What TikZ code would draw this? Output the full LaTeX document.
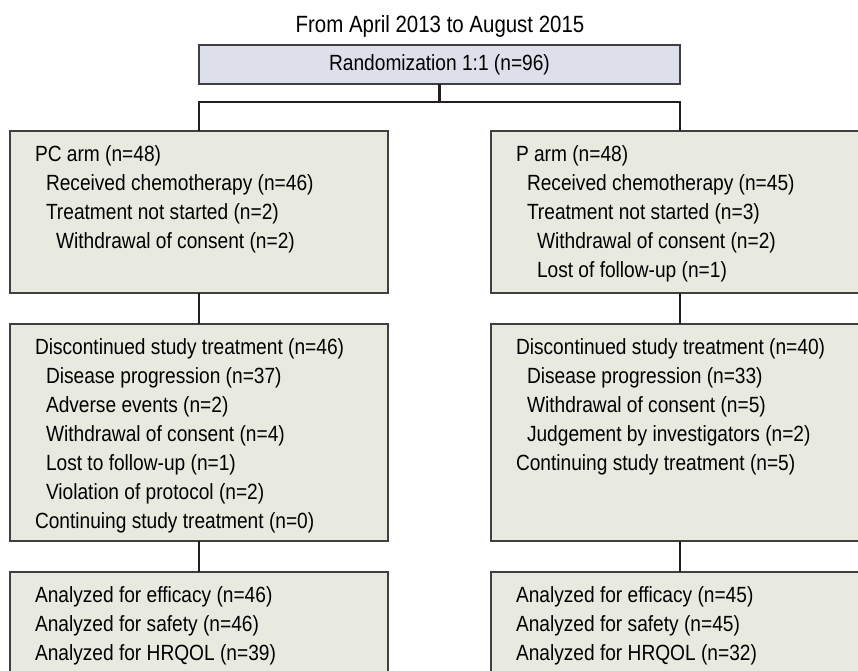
\documentclass[tikz,border=0pt]{standalone}
\usepackage{fontspec}
\setmainfont{Liberation Sans}[FakeStretch=0.87]
\usetikzlibrary{positioning}
\definecolor{armfill}{HTML}{E8EADF}
\definecolor{randfill}{HTML}{DDE0EA}
\definecolor{boxline}{HTML}{404040}
\definecolor{linkline}{HTML}{231F20}
\newcommand{\armind}{\hspace*{11pt}}
\newcommand{\armindd}{\hspace*{21pt}}
\newcommand{\armtext}[2]{\parbox[t][#1][t]{328pt}{#2}}
\tikzset{
  armbox/.style={draw=boxline, line width=1.4pt, fill=armfill, anchor=north west,
    inner xsep=25pt, inner ysep=15pt, outer sep=0pt},
  randbox/.style={draw=boxline, line width=1.4pt, fill=randfill, inner sep=0pt,
    outer sep=0pt, minimum width=481pt, minimum height=39pt},
  link/.style={draw=linkline, line width=2.5pt, line join=miter},
}
\begin{document}
\begin{tikzpicture}[x=1pt,y=1pt,font=\fontsize{22}{29}\selectfont]
\useasboundingbox (0,0) rectangle (858,-670);
\node[anchor=base, font=\fontsize{23.5}{28}\selectfont] (title) at (440,-32) {From April 2013 to August 2015};
\node[randbox] (rand) at (439.5,-64.5) {Randomization 1:1 (n=96)};
\coordinate (split) at (439.5,-102);
\node[armbox] (pc1) at (10,-131) {\armtext{132pt}{PC arm (n=48)\\
  \armind Received chemotherapy (n=46)\\
  \armind Treatment not started (n=2)\\
  \armindd Withdrawal of consent (n=2)}};
\node[armbox] (p1) at (491,-131) {\armtext{132pt}{P arm (n=48)\\
  \armind Received chemotherapy (n=45)\\
  \armind Treatment not started (n=3)\\
  \armindd Withdrawal of consent (n=2)\\
  \armindd Lost of follow-up (n=1)}};
\node[armbox] (pc2) at (10,-324) {\armtext{187pt}{Discontinued study treatment (n=46)\\
  \armind Disease progression (n=37)\\
  \armind Adverse events (n=2)\\
  \armind Withdrawal of consent (n=4)\\
  \armind Lost to follow-up (n=1)\\
  \armind Violation of protocol (n=2)\\
  Continuing study treatment (n=0)}};
\node[armbox] (p2) at (491,-324) {\armtext{187pt}{Discontinued study treatment (n=40)\\
  \armind Disease progression (n=33)\\
  \armind Withdrawal of consent (n=5)\\
  \armind Judgement by investigators (n=2)\\
  Continuing study treatment (n=5)}};
\node[armbox] (pc3) at (10,-572) {\armtext{90pt}{Analyzed for efficacy (n=46)\\
  Analyzed for safety (n=46)\\
  Analyzed for HRQOL (n=39)}};
\node[armbox] (p3) at (491,-572) {\armtext{90pt}{Analyzed for efficacy (n=45)\\
  Analyzed for safety (n=45)\\
  Analyzed for HRQOL (n=32)}};
\draw[link] (rand) -- (split);
\draw[link] (pc1.north) -- (pc1.north |- split) -- (p1.north |- split) -- (p1.north);
\draw[link] (pc1) -- (pc2);
\draw[link] (pc2) -- (pc3);
\draw[link] (p1) -- (p2);
\draw[link] (p2) -- (p3);
\end{tikzpicture}
\end{document}
